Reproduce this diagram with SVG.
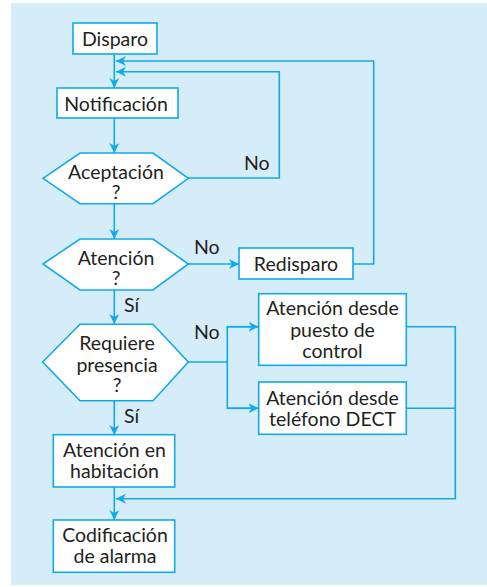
<svg xmlns="http://www.w3.org/2000/svg" width="487" height="587" viewBox="0 0 487 587">
<defs>
<marker id="ah" viewBox="0 0 10 10" refX="10" refY="5" markerWidth="10" markerHeight="10" markerUnits="userSpaceOnUse" orient="auto">
<path d="M0,0 L10,5 L0,10 L3,5 Z" fill="#12a9e8"/>
</marker>
</defs>
<style>
.box{fill:#ffffff;stroke:#12a9e8;stroke-width:1.6}
.ln{fill:none;stroke:#12a9e8;stroke-width:1.6}
.t{font-family:Lato,"Open Sans",sans-serif;font-size:19.5px;fill:#231f20;text-anchor:middle}
.l{font-family:Lato,"Open Sans",sans-serif;font-size:19.5px;fill:#231f20}
</style>
<rect x="11" y="3" width="476" height="582" fill="#d5ecf9"/>
<g id="connectors">
<line class="ln" x1="114.3" y1="54" x2="114.3" y2="88" marker-end="url(#ah)"/>
<line class="ln" x1="114.3" y1="118" x2="114.3" y2="153" marker-end="url(#ah)"/>
<line class="ln" x1="114.3" y1="204" x2="114.3" y2="239" marker-end="url(#ah)"/>
<line class="ln" x1="114.3" y1="290" x2="114.3" y2="324" marker-end="url(#ah)"/>
<line class="ln" x1="114.3" y1="401" x2="114.3" y2="435" marker-end="url(#ah)"/>
<line class="ln" x1="114.3" y1="487" x2="114.3" y2="520" marker-end="url(#ah)"/>
<polyline class="ln" points="188,178 279.3,178 279.3,71.7 116,71.7" marker-end="url(#ah)"/>
<polyline class="ln" points="353,264 373.7,264 373.7,61 116,61" marker-end="url(#ah)"/>
<line class="ln" x1="188" y1="264" x2="239" y2="264" marker-end="url(#ah)"/>
<polyline class="ln" points="188,362 227.3,362"/>
<polyline class="ln" points="258.5,326.7 227.3,326.7 227.3,408.3 258.5,408.3"/>
<line class="ln" x1="227.3" y1="326.7" x2="258.5" y2="326.7" marker-end="url(#ah)"/>
<line class="ln" x1="227.3" y1="408.3" x2="258.5" y2="408.3" marker-end="url(#ah)"/>
<polyline class="ln" points="406.3,326.7 455.3,326.7 455.3,498.7 116,498.7" marker-end="url(#ah)"/>
<line class="ln" x1="406.3" y1="408.3" x2="455.3" y2="408.3"/>
<text class="l" x="244" y="170">No</text>
<text class="l" x="194" y="254">No</text>
<text class="l" x="194" y="339">No</text>
<text class="l" x="124" y="311.7">Sí</text>
<text class="l" x="124" y="423.3">Sí</text>
</g>
<g id="disparo">
<rect class="box" x="73" y="23" width="84" height="31"/>
<text class="t" x="115" y="46">Disparo</text>
</g>
<g id="notificacion">
<rect class="box" x="57" y="88" width="121" height="30"/>
<text class="t" x="116" y="110.5">Notificación</text>
</g>
<g id="aceptacion">
<polygon class="box" points="43,178.3 80,153 153,153 188.3,178.3 153,203.7 80,203.7"/>
<text class="t" x="116" y="179">Aceptación</text>
<text class="t" x="116" y="199">?</text>
</g>
<g id="atencion">
<polygon class="box" points="43,264 80,239 153,239 188.3,264 153,290 80,290"/>
<text class="t" x="116" y="265">Atención</text>
<text class="t" x="116" y="285">?</text>
</g>
<g id="redisparo">
<rect class="box" x="239" y="248" width="114" height="31"/>
<text class="t" x="296" y="271">Redisparo</text>
</g>
<g id="requiere">
<polygon class="box" points="42.7,362 80,324.3 153,324.3 188.3,362 153,400.7 80,400.7"/>
<text class="t" x="117" y="350">Requiere</text>
<text class="t" x="117" y="371.7">presencia</text>
<text class="t" x="117" y="391.7">?</text>
</g>
<g id="puesto">
<rect class="box" x="258.7" y="293.7" width="147.6" height="71.6"/>
<text class="t" x="332.5" y="315">Atención desde</text>
<text class="t" x="332.5" y="337.3">puesto de</text>
<text class="t" x="332.5" y="358.3">control</text>
</g>
<g id="dect">
<rect class="box" x="258.7" y="382" width="147.6" height="52.3"/>
<text class="t" x="332.5" y="405">Atención desde</text>
<text class="t" x="332.5" y="425.7">teléfono DECT</text>
</g>
<g id="habitacion">
<rect class="box" x="53.3" y="434.7" width="121.4" height="52.3"/>
<text class="t" x="114.5" y="456.7">Atención en</text>
<text class="t" x="114.5" y="478.3">habitación</text>
</g>
<g id="codificacion">
<rect class="box" x="53.3" y="520" width="121.4" height="52.3"/>
<text class="t" x="115" y="542.3">Codificación</text>
<text class="t" x="115" y="563.3">de alarma</text>
</g>
</svg>
